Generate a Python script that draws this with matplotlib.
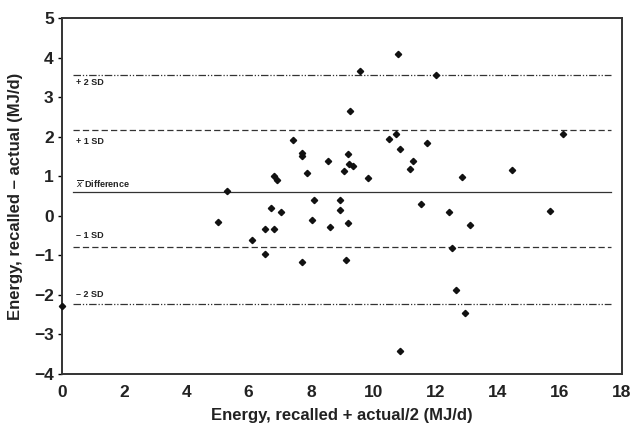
import matplotlib
matplotlib.use("Agg")
import matplotlib.pyplot as plt

plt.rcParams['font.family'] = ['Liberation Sans', 'DejaVu Sans']

# Data (Bland-Altman points)
mean_energy = [0.00, 5.00, 5.31, 6.12, 6.52, 6.52, 6.71, 6.80, 7.04, 7.72,
               8.03, 8.09, 7.42, 7.73, 7.73, 7.89, 6.80, 6.92, 8.54, 9.19,
               9.22, 9.36, 9.07, 8.92, 8.92, 8.61, 9.19, 9.13, 10.79, 9.59,
               12.03, 9.25, 10.72, 10.52, 10.88, 11.73, 11.28, 11.18, 9.83, 12.86,
               11.55, 12.45, 13.12, 12.52, 12.68, 12.94, 10.86, 16.09, 14.46, 15.67]
diff_energy = [-2.28, -0.15, 0.63, -0.61, -0.32, -0.95, 0.20, -0.32, 0.10, -1.16,
               -0.09, 0.40, 1.92, 1.60, 1.53, 1.10, 1.01, 0.91, 1.38, 1.58,
               1.32, 1.27, 1.13, 0.41, 0.14, -0.27, -0.19, -1.12, 4.09, 3.67,
               3.58, 2.67, 2.08, 1.94, 1.70, 1.84, 1.40, 1.18, 0.97, 0.98,
               0.30, 0.09, -0.23, -0.82, -1.88, -2.46, -3.42, 2.08, 1.16, 0.13]

ref_values = [3.58, 2.17, 0.62, -0.79, -2.23]
ref_labels = ['+ 2 SD', '+ 1 SD', r'$\overline{x}$ Difference', '\u2013 1 SD', '\u2013 2 SD']
label_y = [3.38, 1.88, 0.82, -0.50, -1.98]

fig = plt.figure(figsize=(6.36, 4.25), dpi=100)
ax = fig.add_axes([0.0975, 0.12, 0.8805, 0.8365])

styles = [(0, (6, 1.5, 1, 1.5, 1, 1.5)), (0, (5, 2.5)), '-', (0, (5, 2.5)), (0, (6, 1.5, 1, 1.5, 1, 1.5))]
for v, ls in zip(ref_values, styles):
    ax.plot([0.35, 17.65], [v, v], color='#333333', lw=0.9, linestyle=ls, zorder=1)

for lab, yy in zip(ref_labels, label_y):
    ax.text(0.45, yy, lab, fontsize=6.5, fontweight='bold', color='#222222',
            ha='left', va='center')

ax.plot(mean_energy, diff_energy, linestyle='none', marker='D', markersize=3.2,
        color='#111111', zorder=3, clip_on=False)

ax.set_xlim(0, 18)
ax.set_ylim(-4, 5)
ax.set_xticks(range(0, 19, 2))
ax.set_yticks(range(-4, 6))
ax.set_yticklabels([str(v).replace('-', '\u2212') for v in range(-4, 6)])

for s in ax.spines.values():
    s.set_linewidth(1.4)
    s.set_color('#333333')

ax.tick_params(axis='x', length=0, pad=8, labelsize=12.5)
ax.tick_params(axis='y', length=3, width=1, direction='out', pad=3, labelsize=12.5)
for t in ax.get_xticklabels() + ax.get_yticklabels():
    t.set_fontweight('bold')
    t.set_color('#222222')

ax.set_xlabel('Energy, recalled + actual/2 (MJ/d)', fontsize=12, fontweight='bold',
              color='#222222', labelpad=6)
ax.set_ylabel('Energy, recalled \u2013 actual (MJ/d)', fontsize=12, fontweight='bold',
              color='#222222', labelpad=8)

fig.savefig('out.png', dpi=100)
